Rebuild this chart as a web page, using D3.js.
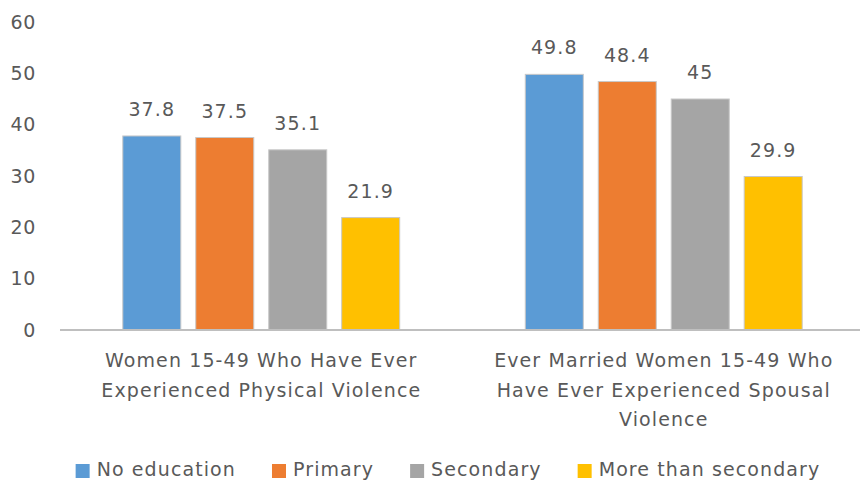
<!DOCTYPE html>
<html>
<head>
<meta charset="utf-8">
<script src="https://cdn.jsdelivr.net/npm/d3@7"></script>
<style>
  body { margin: 0; background: #fff; }
  text { font-family: "DejaVu Sans", sans-serif; fill: #595959; }
</style>
</head>
<body>
<div id="chart"></div>
<script>
'use strict';

// chart data
var categories = [
  ["Women 15-49 Who Have Ever", "Experienced Physical Violence"],
  ["Ever Married Women 15-49 Who", "Have Ever Experienced Spousal", "Violence"]
];
var series = ["No education", "Primary", "Secondary", "More than secondary"];
var colors = ["#5b9bd5", "#ed7d31", "#a5a5a5", "#ffc000"];
var noEducation = [37.8, 49.8];
var primary = [37.5, 48.4];
var secondary = [35.1, 45];
var moreThanSecondary = [21.9, 29.9];
var yTicks = [0, 10, 20, 30, 40, 50, 60];

var values = [noEducation, primary, secondary, moreThanSecondary];

var svgWidth = 860, svgHeight = 481;
var margin = {top: 22, right: -5, bottom: 151, left: 60};
var width = svgWidth - margin.left - margin.right;
var height = svgHeight - margin.top - margin.bottom;

var svg = d3.select("#chart").append("svg")
    .attr("width", svgWidth)
    .attr("height", svgHeight);

var g = svg.append("g").attr("transform", "translate(" + margin.left + "," + margin.top + ")");

var x0 = d3.scaleBand()
    .domain(d3.range(categories.length))
    .range([0, width])
    .paddingInner(0.312)
    .paddingOuter(0.156);

var x1 = d3.scaleBand()
    .domain(d3.range(series.length))
    .range([0, x0.bandwidth()])
    .paddingInner(0.205);

var y = d3.scaleLinear().domain([0, 60]).range([height, 0]);

var fontSize = 19, spacing = "1.1px";

// y axis labels only
var yAxis = g.append("g")
    .call(d3.axisLeft(y).tickValues(yTicks).tickSize(0).tickPadding(24));
yAxis.select(".domain").remove();
yAxis.selectAll("text")
    .style("font-family", "DejaVu Sans")
    .style("font-size", fontSize + "px")
    .style("letter-spacing", "0.6px")
    .attr("fill", "#595959");

// bars
var groups = g.selectAll(".group")
    .data(categories)
    .enter().append("g")
    .attr("transform", function(d, i) { return "translate(" + x0(i) + ",0)"; });

groups.each(function(c, ci) {
  var grp = d3.select(this);
  var rows = values.map(function(v, si) { return {s: si, v: v[ci]}; });

  grp.selectAll("rect")
      .data(rows)
      .enter().append("rect")
      .attr("x", function(d) { return x1(d.s); })
      .attr("y", function(d) { return y(d.v); })
      .attr("width", x1.bandwidth())
      .attr("height", function(d) { return height - y(d.v); })
      .attr("fill", function(d) { return colors[d.s]; })
      .attr("stroke", "#c8c8c8")
      .attr("stroke-width", 1);

  grp.selectAll(".val")
      .data(rows)
      .enter().append("text")
      .attr("class", "val")
      .attr("x", function(d) { return x1(d.s) + x1.bandwidth() / 2; })
      .attr("y", function(d) { return y(d.v) - 20; })
      .attr("text-anchor", "middle")
      .style("font-size", fontSize + "px")
      .style("letter-spacing", spacing)
      .text(function(d) { return d.v; });
});

// x axis line
g.append("line")
    .attr("x1", 0).attr("x2", width)
    .attr("y1", height).attr("y2", height)
    .attr("stroke", "#bfbfbf")
    .attr("stroke-width", 2);

// category labels
categories.forEach(function(lines, i) {
  var t = g.append("text")
      .attr("text-anchor", "middle")
      .attr("transform", "translate(" + (x0(i) + x0.bandwidth() / 2) + "," + (height + 37) + ")")
      .style("font-size", fontSize + "px")
      .style("letter-spacing", spacing);
  lines.forEach(function(line, li) {
    t.append("tspan")
        .attr("x", 0)
        .attr("y", li * 29.5)
        .text(line);
  });
});

// legend
var legend = svg.append("g");
var lx = 0;
series.forEach(function(s, i) {
  var item = legend.append("g").attr("transform", "translate(" + lx + ",0)");
  item.append("rect")
      .attr("x", 0).attr("y", -12)
      .attr("width", 14).attr("height", 14)
      .attr("fill", colors[i]);
  var t = item.append("text")
      .attr("x", 21)
      .attr("y", 0)
      .style("font-size", fontSize + "px")
      .style("letter-spacing", spacing)
      .text(s);
  lx += 21 + t.node().getComputedTextLength() + 36;
});
var legendWidth = lx - 36;
legend.attr("transform", "translate(" + (448 - legendWidth / 2) + ",476)");
</script>
</body>
</html>
